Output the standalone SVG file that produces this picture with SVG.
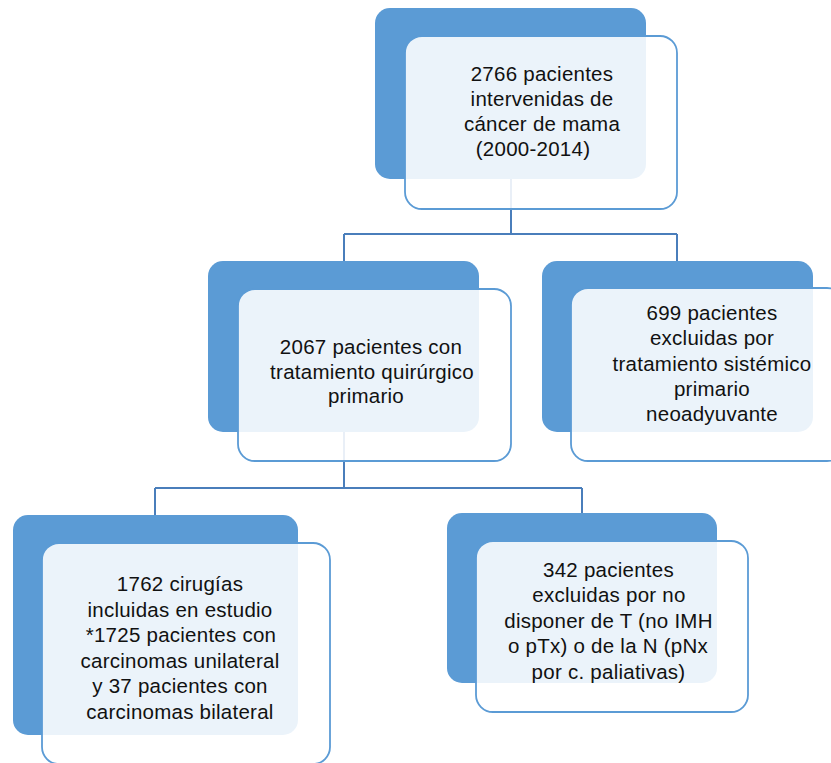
<svg xmlns="http://www.w3.org/2000/svg" width="831" height="763" viewBox="0 0 831 763">
<style>
.bg{fill:#ffffff}
.dark{fill:#5B9BD5}
.light{fill:#ffffff;fill-opacity:0.88;stroke:#5B9BD5;stroke-width:1.8}
.conn{fill:none;stroke:#4A7EBB;stroke-width:2}
text{font-family:"Liberation Sans",Arial,Helvetica,sans-serif;font-size:20.5px;letter-spacing:0.25px;fill:#111111;text-anchor:middle}
</style>
<rect class="bg" x="0" y="0" width="831" height="763"/>
<g id="connectors">
<path class="conn" d="M511,179 V234 M344,234 H677 M344,234 V261 M677,234 V261"/>
<path class="conn" d="M344,432 V488 M155,488 H582 M155,488 V515 M582,488 V513"/>
</g>
<g id="n1">
<rect class="dark" x="375" y="8" width="271" height="171" rx="15"/>
<rect class="light" x="405" y="36" width="272" height="173" rx="17"/>
<text x="542" y="81">2766 pacientes</text>
<text x="542" y="106">intervenidas de</text>
<text x="542" y="131">cáncer de mama</text>
<text x="533" y="156">(2000-2014)</text>
</g>
<g id="n2">
<rect class="dark" x="208" y="261" width="271" height="171" rx="15"/>
<rect class="light" x="238" y="289" width="273" height="172" rx="17"/>
<text x="371" y="354">2067 pacientes con</text>
<text x="372" y="378.5">tratamiento quirúrgico</text>
<text x="366" y="403">primario</text>
</g>
<g id="n3">
<rect class="dark" x="542" y="261" width="271" height="171" rx="15"/>
<rect class="light" x="571" y="288" width="273" height="173" rx="17"/>
<text x="712" y="320">699 pacientes</text>
<text x="712" y="345">excluidas por</text>
<text x="712" y="370.5">tratamiento sistémico</text>
<text x="712" y="395.5">primario</text>
<text x="712" y="420.5">neoadyuvante</text>
</g>
<g id="n4">
<rect class="dark" x="13" y="515" width="285" height="220" rx="15"/>
<rect class="light" x="42" y="543" width="288" height="221" rx="17"/>
<text x="180" y="591">1762 cirugías</text>
<text x="180" y="616.5">incluidas en estudio</text>
<text x="181" y="642">*1725 pacientes con</text>
<text x="180" y="667.5">carcinomas unilateral</text>
<text x="180" y="693">y 37 pacientes con</text>
<text x="180" y="718.5">carcinomas bilateral</text>
</g>
<g id="n5">
<rect class="dark" x="447" y="513" width="270" height="170" rx="15"/>
<rect class="light" x="476" y="541" width="272" height="171" rx="17"/>
<text x="608.5" y="577">342 pacientes</text>
<text x="609" y="602">excluidas por no</text>
<text x="608.5" y="627.5">disponer de T (no IMH</text>
<text x="608" y="653">o pTx) o de la N (pNx</text>
<text x="608.5" y="678.5">por c. paliativas)</text>
</g>
</svg>
